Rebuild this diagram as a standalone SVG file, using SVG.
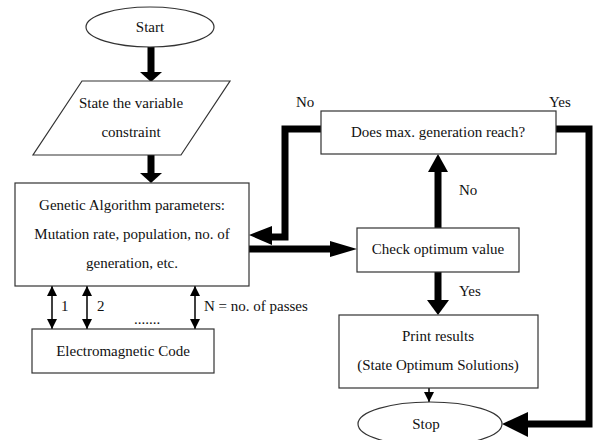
<svg xmlns="http://www.w3.org/2000/svg" width="594" height="440" viewBox="0 0 594 440">
<style>
.box{fill:#fff;stroke:#333;stroke-width:1.2}
text{font-family:'Liberation Serif','Times New Roman','DejaVu Serif',serif;font-size:15px;fill:#111}
.t{text-anchor:middle}
.thick{fill:none;stroke:#000;stroke-width:7}
.thin{fill:none;stroke:#000;stroke-width:1.5}
</style>
<defs>
<marker id="ah" markerWidth="10" markerHeight="10" refX="10" refY="5" orient="auto-start-reverse" markerUnits="userSpaceOnUse" viewBox="0 0 10 10">
<path d="M0,0 L10,5 L0,10 Z" fill="#000"/>
</marker>
</defs>
<rect width="594" height="440" fill="#fff"/>
<g id="connectors">
<path class="thick" d="M151,47 V73"/>
<path d="M140,72 H162 L151,82 Z"/>
<path class="thick" d="M151,155 V174"/>
<path d="M140,173 H162 L151,183 Z"/>
<path class="thick" d="M249,249 H331"/>
<path d="M330,241 L357,249 L330,257 Z"/>
<path class="thick" d="M438,228 V171"/>
<path d="M428,172 L438,154 L448,172 Z"/>
<path class="thick" d="M438,272 V301"/>
<path d="M427,300 H449 L438,315 Z"/>
<path class="thick" d="M321,129 H285 V237 H271"/>
<path d="M272,226 L249,235 L272,245 Z"/>
<path class="thick" d="M556,129 H589 V424 H527"/>
<path d="M528,412 L502,424 L528,437 Z"/>
<path class="thin" d="M429,388 V402" marker-end="url(#ah)"/>
<path class="thin" d="M52,286 V329" marker-start="url(#ah)" marker-end="url(#ah)"/>
<path class="thin" d="M87,286 V329" marker-start="url(#ah)" marker-end="url(#ah)"/>
<path class="thin" d="M195,286 V329" marker-start="url(#ah)" marker-end="url(#ah)"/>
</g>
<g id="start">
<ellipse class="box" cx="150" cy="27" rx="64" ry="20"/>
<text class="t" x="150" y="32">Start</text>
</g>
<g id="state">
<path class="box" d="M82,81 H230 L181,155 H33 Z"/>
<text class="t" x="131" y="108">State the variable</text>
<text class="t" x="131" y="137">constraint</text>
</g>
<g id="ga">
<rect class="box" x="15" y="183" width="234" height="103"/>
<text class="t" x="132" y="210">Genetic Algorithm parameters:</text>
<text class="t" x="132" y="239">Mutation rate, population, no. of</text>
<text class="t" x="132" y="268">generation, etc.</text>
</g>
<g id="labels">
<text x="61" y="311">1</text>
<text x="97" y="311">2</text>
<text x="204" y="311">N = no. of passes</text>
<text x="134" y="324">.......</text>
<text x="296" y="107">No</text>
<text x="549" y="107">Yes</text>
<text x="459" y="195">No</text>
<text x="459" y="296">Yes</text>
</g>
<g id="em">
<rect class="box" x="32" y="329" width="182" height="44"/>
<text class="t" x="123" y="356">Electromagnetic Code</text>
</g>
<g id="maxgen">
<rect class="box" x="321" y="111" width="235" height="43"/>
<text class="t" x="438" y="137">Does max. generation reach?</text>
</g>
<g id="check">
<rect class="box" x="357" y="228" width="162" height="44"/>
<text class="t" x="438" y="254">Check optimum value</text>
</g>
<g id="print">
<rect class="box" x="339" y="315" width="199" height="73"/>
<text class="t" x="438" y="341">Print results</text>
<text class="t" x="438" y="370">(State Optimum Solutions)</text>
</g>
<g id="stop">
<ellipse class="box" cx="430" cy="424" rx="72" ry="22"/>
<text class="t" x="426" y="429">Stop</text>
</g>
</svg>
